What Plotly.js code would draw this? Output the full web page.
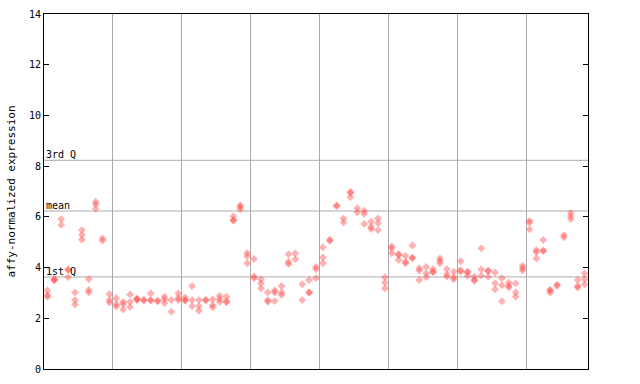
<!DOCTYPE html>
<html>
<head>
<meta charset="utf-8">
<script src="https://cdn.plot.ly/plotly-3.0.1.min.js"></script>
<style>html,body{margin:0;padding:0;background:#fff}#chart{width:640px;height:384px}</style>
</head>
<body>
<div id="chart"></div>
<script>
// Replicate expression values per sample column
const sampleValues = [
  [3.1, 2.92, 2.85], [3.55, 3.52, 3.5], [5.91, 5.68], [3.93, 3.9, 3.62], [3.02, 2.72, 2.54],
  [5.48, 5.28, 5.1], [3.55, 3.12, 3.02], [6.6, 6.5, 6.32], [5.15, 5.06], [2.95, 2.72, 2.62],
  [2.79, 2.55, 2.46], [2.65, 2.56, 2.35], [2.94, 2.65, 2.45], [2.78, 2.75, 2.72], [2.73, 2.7],
  [2.98, 2.72, 2.7], [2.7, 2.67], [2.85, 2.75, 2.6], [2.72, 2.26], [2.98, 2.8, 2.72],
  [2.82, 2.72, 2.7], [3.27, 2.72, 2.48], [2.72, 2.48, 2.3], [2.73, 2.7], [2.75, 2.52, 2.43],
  [2.88, 2.76, 2.65], [2.85, 2.67, 2.63], [6.02, 5.88, 5.85], [6.45, 6.4, 6.3], [4.57, 4.45, 4.17],
  [4.34, 3.65, 3.58], [3.54, 3.38, 3.18], [3.02, 2.72, 2.65], [3.1, 3.02, 2.68], [3.27, 3.02, 2.92],
  [4.53, 4.23, 4.14], [4.56, 4.33], [3.34, 2.72], [3.51, 3.03, 3.0], [4.03, 3.93, 3.58],
  [4.8, 4.4, 4.17], [5.1, 5.05], [6.45, 6.42], [5.94, 5.78], [6.98, 6.95, 6.77],
  [6.34, 6.18], [6.24, 6.12, 5.72], [5.81, 5.61, 5.52], [5.94, 5.75, 5.48], [3.62, 3.41, 3.18],
  [4.83, 4.76, 4.56], [4.53, 4.5, 4.3], [4.46, 4.23, 4.17], [4.87, 4.39, 4.37], [3.97, 3.88, 3.51],
  [4.03, 3.77, 3.62], [3.94, 3.84, 3.82], [4.36, 4.27, 4.17], [3.94, 3.73, 3.64], [3.84, 3.62, 3.54],
  [4.25, 3.9, 3.84], [3.84, 3.82, 3.67], [3.64, 3.51, 3.49], [4.76, 3.93, 3.68], [3.88, 3.86, 3.64],
  [3.81, 3.38, 3.14], [3.58, 3.3, 2.67], [3.41, 3.28, 3.22], [3.38, 3.02, 2.85], [4.07, 3.97, 3.88],
  [5.85, 5.77, 5.51], [4.69, 4.6, 4.36], [5.09, 4.67, 4.65], [3.12, 3.1, 3.01], [3.33, 3.28],
  [5.28, 5.19], [6.16, 6.03, 5.91], [3.51, 3.27, 3.21], [3.77, 3.54, 3.34]
];
const statLines = [
  { label: "3rd Q", value: 8.23 },
  { label: "mean", value: 6.23 },
  { label: "1st Q", value: 3.63 }
];
const yTickValues = [0, 2, 4, 6, 8, 10, 12, 14];
const groupBoundaries = [9.5, 19.5, 29.5, 39.5, 49.5, 59.5, 69.5];

const xs = [], ys = [];
sampleValues.forEach((vals, i) => vals.forEach(v => { xs.push(i); ys.push(v); }));

const trace = {
  x: xs, y: ys, type: 'scatter', mode: 'markers',
  marker: { symbol: 'diamond', size: 6, color: 'rgba(255,80,80,0.45)', line: { width: 0 } },
  hoverinfo: 'y', showlegend: false
};

const mono = 'DejaVu Sans Mono, monospace';
const shapes = statLines.map(s => ({
  type: 'line', xref: 'paper', x0: 0, x1: 1, yref: 'y', y0: s.value, y1: s.value,
  line: { color: '#aaaaaa', width: 1 }, layer: 'below'
}));
const annotations = statLines.map(s => ({
  xref: 'paper', x: 0, xanchor: 'left', yref: 'y', y: s.value, yanchor: 'bottom',
  text: s.label, showarrow: false, font: { family: mono, size: 10, color: '#000' }, xshift: 0, yshift: -2
}));

const layout = {
  width: 640, height: 384,
  margin: { l: 44, r: 52, t: 14, b: 15 },
  paper_bgcolor: '#fff', plot_bgcolor: '#fff',
  xaxis: {
    range: [-0.5, 78.5], tickvals: groupBoundaries, showticklabels: false, ticks: '',
    showgrid: true, gridcolor: '#aaaaaa', gridwidth: 1, zeroline: false,
    showline: true, linecolor: '#000', linewidth: 1, mirror: true
  },
  yaxis: {
    range: [0, 14], tickvals: yTickValues, ticktext: yTickValues.map(String),
    ticks: 'inside', ticklen: 5, tickcolor: '#000', mirror: 'ticks',
    showline: true, linecolor: '#000', linewidth: 1, showgrid: false, zeroline: false,
    tickfont: { family: mono, size: 10, color: '#000' },
    title: { text: 'affy-normalized expression', font: { family: mono, size: 11, color: '#000' }, standoff: 11 }
  },
  shapes: shapes, annotations: annotations
};

Plotly.newPlot('chart', [trace], layout, { displayModeBar: false, staticPlot: true });
</script>
</body>
</html>
